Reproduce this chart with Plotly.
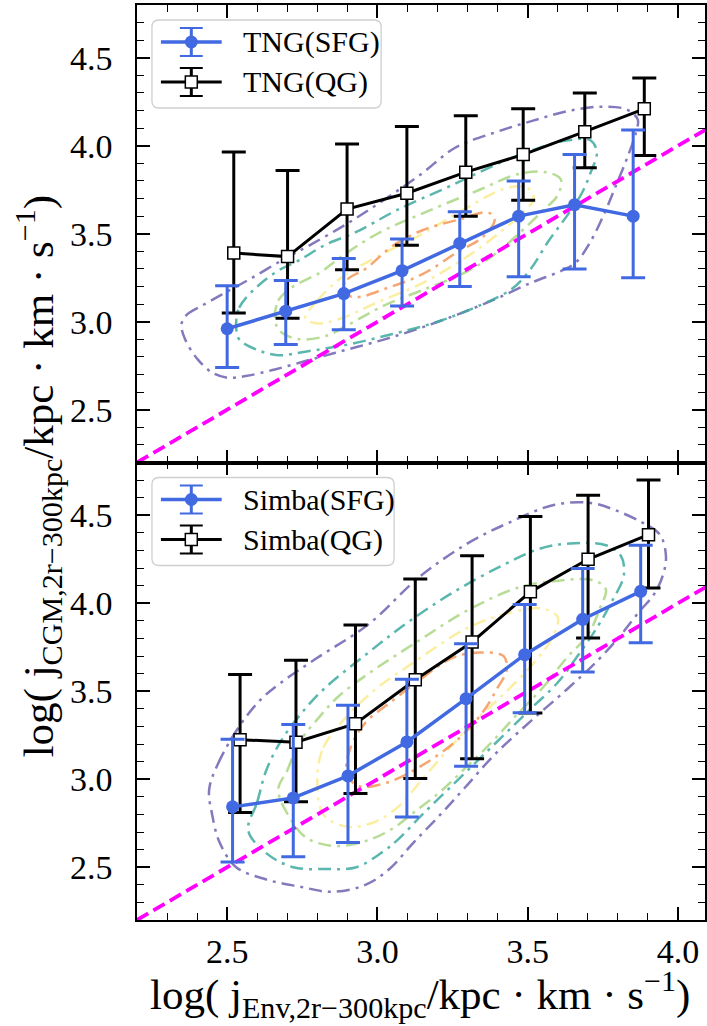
import plotly.graph_objects as go

FONT = "Liberation Serif, Times New Roman, serif"

# ---------------- TNG (upper panel) ----------------
tng_sfg_x = [2.500, 2.695, 2.888, 3.082, 3.274, 3.470, 3.656, 3.851]
tng_sfg_y = [2.96, 3.06, 3.16, 3.29, 3.445, 3.60, 3.665, 3.60]
tng_sfg_hi = [3.205, 3.235, 3.36, 3.47, 3.625, 3.80, 3.95, 4.09]
tng_sfg_lo = [2.74, 2.87, 2.955, 3.09, 3.20, 3.255, 3.30, 3.25]

tng_qg_x = [2.522, 2.701, 2.899, 3.098, 3.294, 3.485, 3.690, 3.888]
tng_qg_y = [3.39, 3.37, 3.64, 3.73, 3.85, 3.95, 4.08, 4.21]
tng_qg_hi = [3.965, 3.86, 4.01, 4.11, 4.17, 4.21, 4.30, 4.385]
tng_qg_lo = [3.05, 3.02, 3.295, 3.435, 3.60, 3.69, 3.875, 3.945]

# density contour levels (outer -> inner)
tng_c1 = [(2.348, 2.985), (2.366, 3.040), (2.415, 3.090), (2.488, 3.160), (2.573, 3.240),
          (2.683, 3.350), (2.780, 3.440), (2.902, 3.560), (3.024, 3.695), (3.146, 3.840),
          (3.260, 3.990), (3.390, 4.075), (3.512, 4.140), (3.634, 4.197), (3.744, 4.222),
          (3.829, 4.206), (3.866, 4.150), (3.860, 4.074), (3.829, 3.922), (3.793, 3.771),
          (3.756, 3.619), (3.707, 3.449), (3.659, 3.335), (3.610, 3.288), (3.512, 3.222),
          (3.390, 3.127), (3.268, 3.042), (3.146, 2.966), (3.024, 2.900), (2.902, 2.843),
          (2.780, 2.786), (2.659, 2.729), (2.561, 2.691), (2.500, 2.682), (2.451, 2.710),
          (2.402, 2.786), (2.360, 2.900), (2.348, 2.985)]
tng_c2 = [(2.53, 2.97), (2.54, 3.08), (2.60, 3.20), (2.67, 3.29), (2.74, 3.35), (2.83, 3.44),
          (2.93, 3.51), (3.06, 3.63), (3.24, 3.77), (3.46, 3.94), (3.63, 4.03), (3.71, 4.03),
          (3.73, 3.96), (3.71, 3.85), (3.68, 3.73), (3.63, 3.60), (3.57, 3.46), (3.51, 3.30),
          (3.45, 3.19), (3.35, 3.10), (3.20, 3.00), (3.05, 2.93), (2.90, 2.87), (2.76, 2.83),
          (2.67, 2.81), (2.60, 2.84), (2.54, 2.90), (2.53, 2.97)]
tng_c3 = [(2.66, 3.00), (2.67, 3.12), (2.72, 3.20), (2.81, 3.28), (2.88, 3.37), (3.00, 3.50),
          (3.17, 3.63), (3.34, 3.75), (3.47, 3.84), (3.56, 3.85), (3.61, 3.81), (3.60, 3.72),
          (3.55, 3.63), (3.47, 3.50), (3.38, 3.37), (3.28, 3.27), (3.15, 3.18), (3.02, 3.09),
          (2.90, 2.98), (2.83, 2.92), (2.74, 2.90), (2.68, 2.94), (2.66, 3.00)]
tng_c4 = [(2.76, 3.02), (2.80, 3.12), (2.88, 3.25), (3.00, 3.37), (3.15, 3.50), (3.30, 3.65),
          (3.43, 3.76), (3.50, 3.76), (3.52, 3.70), (3.47, 3.60), (3.38, 3.47), (3.28, 3.35),
          (3.15, 3.22), (3.00, 3.11), (2.88, 3.02), (2.80, 2.99), (2.76, 3.02)]
tng_c5 = [(2.88, 3.17), (2.90, 3.24), (2.96, 3.30), (3.05, 3.43), (3.15, 3.52), (3.27, 3.58),
          (3.37, 3.62), (3.39, 3.58), (3.35, 3.48), (3.27, 3.40), (3.15, 3.27), (3.03, 3.19),
          (2.93, 3.14), (2.88, 3.17)]

# ---------------- Simba (lower panel) ----------------
simba_sfg_x = [2.518, 2.720, 2.902, 3.098, 3.295, 3.490, 3.683, 3.876]
simba_sfg_y = [2.843, 2.894, 3.019, 3.212, 3.458, 3.708, 3.909, 4.068]
simba_sfg_hi = [3.227, 3.311, 3.42, 3.568, 3.770, 3.993, 4.197, 4.330]
simba_sfg_lo = [2.530, 2.560, 2.64, 2.786, 3.074, 3.378, 3.610, 3.775]

simba_qg_x = [2.543, 2.729, 2.927, 3.126, 3.315, 3.509, 3.701, 3.902]
simba_qg_y = [3.225, 3.210, 3.316, 3.565, 3.78, 4.065, 4.25, 4.39]
simba_qg_hi = [3.595, 3.676, 3.877, 4.138, 4.270, 4.493, 4.614, 4.70]
simba_qg_lo = [2.811, 2.872, 2.919, 3.004, 3.117, 3.377, 3.803, 4.087]

simba_c1 = [(2.44, 2.94), (2.47, 3.09), (2.54, 3.30), (2.61, 3.45), (2.68, 3.55), (2.80, 3.69),
            (2.97, 3.88), (3.14, 4.15), (3.30, 4.34), (3.44, 4.46), (3.59, 4.56), (3.71, 4.57),
            (3.79, 4.53), (3.88, 4.46), (3.94, 4.39), (3.96, 4.27), (3.95, 4.16), (3.92, 4.05),
            (3.87, 3.95), (3.81, 3.82), (3.73, 3.67), (3.63, 3.51), (3.51, 3.33), (3.39, 3.14),
            (3.29, 2.95), (3.21, 2.80), (3.12, 2.64), (3.04, 2.49), (2.96, 2.40), (2.85, 2.36),
            (2.74, 2.39), (2.63, 2.43), (2.53, 2.50), (2.475, 2.64), (2.45, 2.80), (2.44, 2.94)]
simba_c2 = [(2.57, 2.71), (2.60, 2.87), (2.63, 3.05), (2.68, 3.22), (2.74, 3.36), (2.82, 3.51),
            (2.97, 3.72), (3.10, 3.89), (3.25, 4.06), (3.41, 4.21), (3.54, 4.31), (3.64, 4.34),
            (3.76, 4.33), (3.81, 4.27), (3.82, 4.16), (3.78, 4.01), (3.73, 3.86), (3.67, 3.71),
            (3.60, 3.55), (3.51, 3.40), (3.42, 3.25), (3.33, 3.10), (3.24, 2.95), (3.15, 2.80),
            (3.07, 2.66), (3.02, 2.59), (2.93, 2.50), (2.83, 2.49), (2.72, 2.50), (2.63, 2.58),
            (2.57, 2.71)]
simba_c3 = [(2.67, 2.94), (2.70, 3.05), (2.74, 3.21), (2.81, 3.36), (2.87, 3.47), (2.97, 3.60),
            (3.14, 3.79), (3.30, 3.96), (3.47, 4.09), (3.61, 4.13), (3.72, 4.13), (3.76, 4.08),
            (3.74, 3.97), (3.70, 3.82), (3.63, 3.69), (3.55, 3.52), (3.46, 3.36), (3.38, 3.21),
            (3.29, 3.06), (3.21, 2.93), (3.12, 2.81), (3.06, 2.73), (2.98, 2.66), (2.87, 2.62),
            (2.77, 2.66), (2.72, 2.75), (2.67, 2.94)]
simba_c4 = [(2.80, 3.00), (2.82, 3.18), (2.90, 3.36), (3.00, 3.52), (3.10, 3.64), (3.30, 3.86),
            (3.45, 3.95), (3.55, 3.97), (3.60, 3.92), (3.58, 3.80), (3.52, 3.66), (3.43, 3.50),
            (3.33, 3.34), (3.23, 3.16), (3.14, 2.98), (3.06, 2.83), (2.98, 2.75), (2.90, 2.73),
            (2.82, 2.80), (2.80, 3.00)]
simba_c5 = [(2.90, 3.02), (2.90, 3.12), (2.93, 3.25), (2.97, 3.34), (3.03, 3.42), (3.13, 3.55),
            (3.25, 3.69), (3.34, 3.72), (3.42, 3.70), (3.43, 3.62), (3.40, 3.52), (3.35, 3.38),
            (3.27, 3.23), (3.15, 3.08), (3.03, 2.98), (2.94, 2.96), (2.90, 3.02)]

# 1:1 reference line
one_to_one = [2.2, 4.1]

level_colors = ["rgba(112,98,178,0.85)", "rgba(62,170,160,0.85)", "rgba(170,214,130,0.85)",
                "rgba(252,236,150,0.9)", "rgba(244,150,88,0.85)"]

BLUE = "#4169e1"
MAGENTA = "#ff00ff"

fig = go.Figure()


def add_panel(xa, ya, levels, qg, sfg):
    for pts, col in zip(levels, level_colors):
        fig.add_trace(go.Scatter(
            x=[p[0] for p in pts], y=[p[1] for p in pts], mode="lines",
            line=dict(color=col, width=2.5, dash="13px,6px,3px,6px", shape="spline", smoothing=1.0),
            xaxis=xa, yaxis=ya, showlegend=False, hoverinfo="skip"))
    fig.add_trace(go.Scatter(
        x=one_to_one, y=one_to_one, mode="lines",
        line=dict(color=MAGENTA, width=3.8, dash="13px,6px"),
        xaxis=xa, yaxis=ya, showlegend=False, hoverinfo="skip"))
    qx, qy, qhi, qlo = qg
    fig.add_trace(go.Scatter(
        x=qx, y=qy, mode="lines+markers",
        line=dict(color="black", width=3),
        marker=dict(symbol="square", size=12, color="white", line=dict(color="black", width=1.5)),
        error_y=dict(type="data", symmetric=False,
                     array=[h - v for h, v in zip(qhi, qy)],
                     arrayminus=[v - l for v, l in zip(qy, qlo)],
                     color="black", thickness=3, width=12),
        xaxis=xa, yaxis=ya, showlegend=False))
    sx, sy, shi, slo = sfg
    fig.add_trace(go.Scatter(
        x=sx, y=sy, mode="lines+markers",
        line=dict(color=BLUE, width=3.5),
        marker=dict(symbol="circle", size=13, color=BLUE),
        error_y=dict(type="data", symmetric=False,
                     array=[h - v for h, v in zip(shi, sy)],
                     arrayminus=[v - l for v, l in zip(sy, slo)],
                     color=BLUE, thickness=3, width=12),
        xaxis=xa, yaxis=ya, showlegend=False))


add_panel("x", "y", [tng_c1, tng_c2, tng_c3, tng_c4, tng_c5],
          (tng_qg_x, tng_qg_y, tng_qg_hi, tng_qg_lo),
          (tng_sfg_x, tng_sfg_y, tng_sfg_hi, tng_sfg_lo))
add_panel("x2", "y2", [simba_c1, simba_c2, simba_c3, simba_c4, simba_c5],
          (simba_qg_x, simba_qg_y, simba_qg_hi, simba_qg_lo),
          (simba_sfg_x, simba_sfg_y, simba_sfg_hi, simba_sfg_lo))

W, H = 707, 1026
ML, MR, MT, MB = 137, 0, 5, 106
PW, PH = W - ML - MR, H - MT - MB


def px(p):
    return (p - ML) / PW


def py(p):
    return (H - MB - p) / PH


axis_style = dict(
    showline=True, linecolor="black", linewidth=1.5, mirror="ticks",
    ticks="inside", ticklen=13, tickwidth=1.5, tickcolor="black",
    showgrid=False, zeroline=False, tick0=2.5, dtick=0.5, tickformat=".1f",
    tickfont=dict(family=FONT, size=34, color="black"),
    minor=dict(ticks="inside", ticklen=7, tickwidth=1.2, tickcolor="black",
               dtick=0.1, showgrid=False),
)

fig.update_layout(
    width=W, height=H, margin=dict(l=ML, r=MR, t=MT, b=MB),
    plot_bgcolor="white", paper_bgcolor="white", showlegend=False,
    xaxis=dict(**axis_style, range=[2.2, 4.09], domain=[0, 1], anchor="y", showticklabels=False),
    yaxis=dict(**axis_style, range=[2.2, 4.8], domain=[0.5, 1], anchor="x", ticklabelstandoff=16),
    xaxis2=dict(**axis_style, range=[2.2, 4.09], domain=[0, 1], anchor="y2", matches="x"),
    yaxis2=dict(**axis_style, range=[2.2, 4.8], domain=[0, 0.5], anchor="x2", ticklabelstandoff=16),
)

# axis titles
fig.add_annotation(
    xref="paper", yref="paper", x=px(421), y=py(994), xanchor="center", yanchor="middle",
    text="log( j<sub>Env,2r\u2212300kpc</sub>/kpc \u00b7 km \u00b7 s<sup>\u22121</sup>)",
    showarrow=False, font=dict(family=FONT, size=43, color="black"))
fig.add_annotation(
    xref="paper", yref="paper", x=px(38), y=py(476), xanchor="center", yanchor="middle",
    textangle=-90,
    text="log( j<sub>CGM,2r\u2212300kpc</sub>/kpc \u00b7 km \u00b7 s<sup>\u22121</sup>)",
    showarrow=False, font=dict(family=FONT, size=43, color="black"))


# legend boxes drawn per panel
def rounded_box(x0, y0, x1, y1, r):
    X = px
    Y = py
    return (f"M {X(x0 + r)},{Y(y0)} L {X(x1 - r)},{Y(y0)} Q {X(x1)},{Y(y0)} {X(x1)},{Y(y0 + r)} "
            f"L {X(x1)},{Y(y1 - r)} Q {X(x1)},{Y(y1)} {X(x1 - r)},{Y(y1)} "
            f"L {X(x0 + r)},{Y(y1)} Q {X(x0)},{Y(y1)} {X(x0)},{Y(y1 - r)} "
            f"L {X(x0)},{Y(y0 + r)} Q {X(x0)},{Y(y0)} {X(x0 + r)},{Y(y0)} Z")


def add_legend(top, right, labels):
    fig.add_shape(type="path", xref="paper", yref="paper", path=rounded_box(152, top + 15, right, top + 103, 7),
                  fillcolor="rgba(255,255,255,0.85)", line=dict(color="#cfcfcf", width=1.3), layer="above")
    rows = [top + 37, top + 77]
    styles = [(BLUE, 3.5, "circle"), ("black", 3, "square")]
    for row, (col, lw, sym), lab in zip(rows, styles, labels):
        fig.add_shape(type="line", xref="paper", yref="paper", x0=px(161), x1=px(222), y0=py(row), y1=py(row),
                      line=dict(color=col, width=lw), layer="above")
        fig.add_shape(type="line", xref="paper", yref="paper", x0=px(191.5), x1=px(191.5),
                      y0=py(row - 14), y1=py(row + 14), line=dict(color=col, width=3), layer="above")
        for cy in (row - 14, row + 14):
            fig.add_shape(type="line", xref="paper", yref="paper", x0=px(180), x1=px(203),
                          y0=py(cy), y1=py(cy), line=dict(color=col, width=2), layer="above")
        if sym == "circle":
            fig.add_shape(type="circle", xref="paper", yref="paper", x0=px(185), x1=px(198),
                          y0=py(row - 6.5), y1=py(row + 6.5), fillcolor=col, line=dict(color=col, width=0),
                          layer="above")
        else:
            fig.add_shape(type="rect", xref="paper", yref="paper", x0=px(185.5), x1=px(197.5),
                          y0=py(row - 6), y1=py(row + 6), fillcolor="white", line=dict(color="black", width=1.5),
                          layer="above")
        fig.add_annotation(xref="paper", yref="paper", x=px(241), y=py(row), xanchor="left", yanchor="middle",
                           text=lab, showarrow=False, font=dict(family=FONT, size=30, color="black"))


add_legend(5, 382, ["TNG(SFG)", "TNG(QG)"])
add_legend(462.5, 395, ["Simba(SFG)", "Simba(QG)"])

fig.write_html("out.html")
